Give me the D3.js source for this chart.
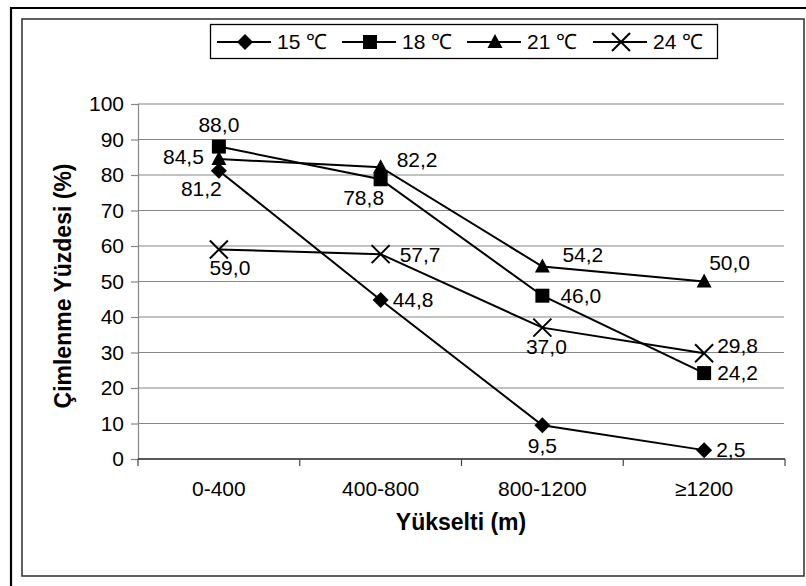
<!DOCTYPE html>
<html>
<head>
<meta charset="utf-8">
<script src="https://cdn.jsdelivr.net/npm/d3@7"></script>
<style>
  html, body { margin: 0; padding: 0; background: #fff; }
  svg { display: block; font-family: Arial, "Liberation Sans", sans-serif; }
</style>
</head>
<body>
<svg id="chart" width="806" height="586"></svg>
<script>
// Elevation classes (x axis)
const categories = ["0-400", "400-800", "800-1200", "\u22651200"];

// Germination percentage per temperature
const seriesNames = ["15 \u2103", "18 \u2103", "21 \u2103", "24 \u2103"];
const t15 = [81.2, 44.8, 9.5, 2.5];
const t18 = [88.0, 78.8, 46.0, 24.2];
const t21 = [84.5, 82.2, 54.2, 50.0];
const t24 = [59.0, 57.7, 37.0, 29.8];

const yTicks = [0, 10, 20, 30, 40, 50, 60, 70, 80, 90, 100];

const series = [
  { name: seriesNames[0], values: t15, symbol: "diamond",
    // label placement per point: [dx, dy, anchor]
    labels: [[-38, 18, "start"], [12, 0, "start"], [0, 20, "middle"], [12, 0, "start"]] },
  { name: seriesNames[1], values: t18, symbol: "square",
    labels: [[0, -22, "middle"], [-17, 18, "middle"], [18, 0, "start"], [13, 0, "start"]] },
  { name: seriesNames[2], values: t21, symbol: "triangle",
    labels: [[-15, -2, "end"], [16, -8, "start"], [20, -12, "start"], [5, -19, "start"]] },
  { name: seriesNames[3], values: t24, symbol: "cross",
    labels: [[11, 18, "middle"], [19, 0, "start"], [4, 19, "middle"], [13, -8, "start"]] }
];

const svg = d3.select("#chart");
const FONT = 21;
const TITLE_FONT = 23;

// frames
svg.append("path").attr("d", "M11,586 V8 H806").attr("fill", "none")
  .attr("stroke", "#000").attr("stroke-width", 2.2);
svg.append("rect").attr("x", 22).attr("y", 19).attr("width", 782).attr("height", 557)
  .attr("fill", "#fff").attr("stroke", "#3a3a3a").attr("stroke-width", 1.6);

const x = d3.scaleBand().domain(categories).range([138, 785]);
const y = d3.scaleLinear().domain([0, 100]).range([459, 104]);

// gridlines
svg.append("g").selectAll("line").data(yTicks.filter(d => d > 0)).join("line")
  .attr("x1", 138).attr("x2", 784)
  .attr("y1", d => y(d)).attr("y2", d => y(d))
  .attr("stroke", "#868686").attr("stroke-width", 1.2);

// y axis
const yAxis = svg.append("g").attr("transform", "translate(138,0)")
  .call(d3.axisLeft(y).tickValues(yTicks).tickSize(7).tickPadding(7).tickFormat(d3.format("d")));
yAxis.select(".domain").attr("stroke", "#868686").attr("stroke-width", 1.2);
yAxis.selectAll(".tick line").attr("stroke", "#868686").attr("stroke-width", 1.2);
yAxis.selectAll(".tick text").attr("font-size", FONT).attr("fill", "#000")
  .attr("font-family", "Arial, 'Liberation Sans', sans-serif");

// x axis with ticks at band boundaries
const xAxisG = svg.append("g").attr("transform", "translate(0,459)");
xAxisG.append("line").attr("x1", 138).attr("x2", 785).attr("stroke", "#222").attr("stroke-width", 1.3);
const bounds = categories.map(c => x(c)).concat([x(categories[categories.length - 1]) + x.bandwidth()]);
xAxisG.selectAll("line.tk").data(bounds).join("line").attr("class", "tk")
  .attr("x1", d => d).attr("x2", d => d).attr("y1", 0).attr("y2", 7)
  .attr("stroke", "#444").attr("stroke-width", 1.2);
xAxisG.selectAll("text").data(categories).join("text")
  .attr("x", d => x(d) + x.bandwidth() / 2).attr("y", 37)
  .attr("text-anchor", "middle").attr("font-size", FONT).text(d => d);

// axis titles
svg.append("text").attr("x", 461).attr("y", 530).attr("text-anchor", "middle")
  .attr("font-size", TITLE_FONT).attr("font-weight", "bold").text("Y\u00fckselti (m)");
svg.append("text").attr("transform", "translate(71,286) rotate(-90)").attr("text-anchor", "middle")
  .attr("font-size", TITLE_FONT).attr("font-weight", "bold").text("\u00c7imlenme Y\u00fczdesi (%)");

const cx = c => x(c) + x.bandwidth() / 2;
const line = d3.line().x((d, i) => cx(categories[i])).y(d => y(d));

function drawMarker(g, s, px, py) {
  let d;
  if (s.symbol === "cross") {
    const r = 9;
    g.append("path").attr("d", `M${px - r},${py - r}L${px + r},${py + r}M${px - r},${py + r}L${px + r},${py - r}`)
      .attr("stroke", "#000").attr("stroke-width", 2).attr("fill", "none");
    return;
  }
  if (s.symbol === "diamond") d = `M${px},${py - 8}L${px + 8},${py}L${px},${py + 8}L${px - 8},${py}Z`;
  else if (s.symbol === "square") d = `M${px - 7},${py - 7}h14v14h-14Z`;
  else d = `M${px},${py - 8}L${px + 7.5},${py + 6}L${px - 7.5},${py + 6}Z`;
  g.append("path").attr("d", d).attr("fill", "#000");
}

// lines, markers and value labels
series.forEach(s => {
  const g = svg.append("g");
  g.append("path").attr("d", line(s.values)).attr("fill", "none")
    .attr("stroke", "#000").attr("stroke-width", 2);
  s.values.forEach((v, i) => {
    drawMarker(g, s, cx(categories[i]), y(v));
  });
});
series.forEach(s => {
  s.values.forEach((v, i) => {
    const [dx, dy, anchor] = s.labels[i];
    svg.append("text").attr("x", cx(categories[i]) + dx).attr("y", y(v) + dy)
      .attr("dy", "0.35em").attr("text-anchor", anchor).attr("font-size", FONT)
      .text(d3.format(".1f")(v).replace(".", ","));
  });
});

// legend
const lg = svg.append("g");
lg.append("rect").attr("x", 210.5).attr("y", 24.5).attr("width", 507).attr("height", 34)
  .attr("fill", "#fff").attr("stroke", "#000").attr("stroke-width", 1.3);
const legendX = [217, 342, 467, 593];
series.forEach((s, i) => {
  const lx = legendX[i], ly = 42;
  lg.append("line").attr("x1", lx).attr("x2", lx + 54).attr("y1", ly).attr("y2", ly)
    .attr("stroke", "#000").attr("stroke-width", 2);
  drawMarker(lg, s, lx + 28, ly);
  lg.append("text").attr("x", lx + 60).attr("y", ly).attr("dy", "0.35em")
    .attr("font-size", FONT).text(s.name);
});
</script>
</body>
</html>
